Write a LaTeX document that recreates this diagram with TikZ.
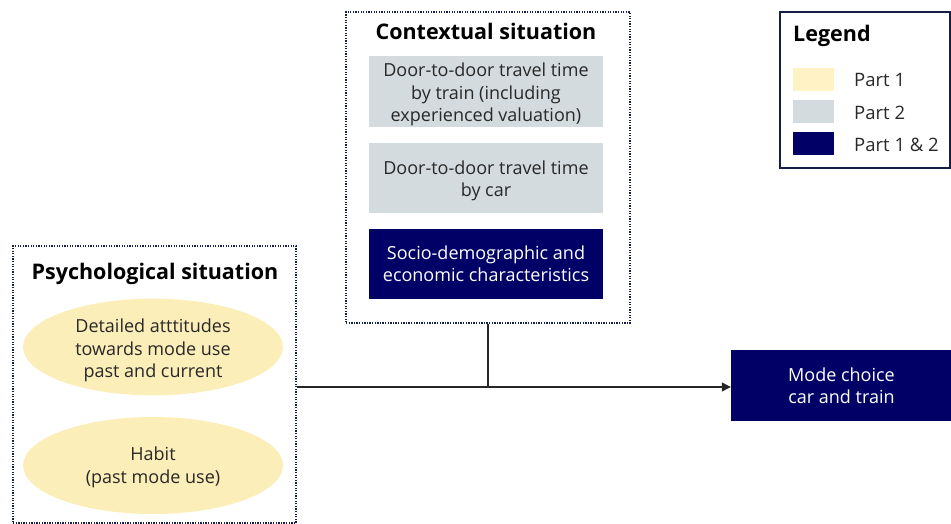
\documentclass[tikz,border=0pt]{standalone}
\usepackage{fontspec}
\setmainfont{Open Sans}
\usetikzlibrary{arrows.meta,shapes.geometric}
\definecolor{navy}{RGB}{0,0,102}
\definecolor{pgrey}{RGB}{211,219,222}
\definecolor{pyellow}{RGB}{252,238,185}
\definecolor{lyellow}{RGB}{255,242,196}
\definecolor{txtgrey}{RGB}{40,40,40}
\definecolor{framecol}{RGB}{20,30,70}
\newcommand{\lowtext}[2][3pt]{\raisebox{-#1}[\height][\depth]{\begin{tabular}{@{}c@{}}#2\end{tabular}}}
\tikzset{
  dotbox/.style={draw=framecol, line width=1.4pt, dash pattern=on 1.3pt off 1.3pt, inner sep=0pt},
  greybox/.style={fill=pgrey, inner sep=0pt, minimum width=234pt, minimum height=71pt, align=center, text=txtgrey, font=\fontsize{18}{22.5}\selectfont},
  navybox/.style={fill=navy, inner sep=0pt, minimum width=234pt, minimum height=70pt, align=center, text=white, font=\fontsize{18}{22.5}\selectfont},
  yell/.style={ellipse, fill=pyellow, inner sep=0pt, minimum width=260pt, minimum height=96pt, align=center, text=txtgrey, font=\fontsize{18}{22.8}\selectfont},
  ttl/.style={font=\bfseries\fontsize{21.5}{25}\selectfont, text=black, inner sep=0pt},
  swatch/.style={inner sep=0pt, minimum width=41pt, minimum height=23pt},
  leglab/.style={anchor=west, inner sep=0pt, text=txtgrey, font=\fontsize{18.5}{22}\selectfont},
  conn/.style={draw=black!85, line width=1.2pt}
}
\begin{document}
\begin{tikzpicture}[x=1pt,y=-1pt]
\useasboundingbox (0,0) rectangle (951,524);
% Contextual situation
\node[dotbox, minimum width=284pt, minimum height=311pt] (ctx) at (488,167.5) {};
\node[ttl] (ctxt) at (486,31) {Contextual situation};
\node[greybox] (g1) at (486,91.5) {\lowtext[3.5pt]{Door-to-door travel time\\by train (including\\experienced valuation)}};
\node[greybox, minimum height=70pt] (g2) at (486,178) {\lowtext{Door-to-door travel time\\by car}};
\node[navybox] (n1) at (486,263.5) {Socio-demographic and\\economic characteristics};
% Psychological situation
\node[dotbox, minimum width=283pt, minimum height=277pt] (psy) at (154.5,384.5) {};
\node[ttl] (psyt) at (155,274) {Psychological situation};
\node[yell] (e1) at (153,347) {\lowtext[3.5pt]{Detailed atttitudes\\towards mode use\\past and current}};
\node[yell, minimum height=97pt] (e2) at (153,465.5) {\lowtext[2pt]{Habit\\(past mode use)}};
% Mode choice
\node[navybox, minimum width=221pt, minimum height=71pt] (mode) at (841.5,385.5) {Mode choice\\car and train};
% connectors
\draw[conn] (psy.east |- 0,387) coordinate (ls) -- (729,387) coordinate (le);
\draw[conn, -{Triangle[length=9pt,width=9pt]}] (ls) -- (mode.west |- ls);
\draw[conn] (ctx.south) -- (ctx.south |- ls);
% Legend
\node[draw=framecol, line width=1.4pt, inner sep=0pt, minimum width=170pt, minimum height=156pt] (leg) at (865,90) {};
\node[ttl, anchor=west] (legt) at (793,36) {Legend};
\node[swatch, fill=lyellow] (s1) at (813.5,79.5) {};
\node[swatch, fill=pgrey] (s2) at (813.5,112) {};
\node[swatch, fill=navy] (s3) at (813.5,144) {};
\node[leglab] (l1) at (854,80) {Part 1};
\node[leglab] (l2) at (854,113) {Part 2};
\node[leglab] (l3) at (854,145) {Part 1 \& 2};
\end{tikzpicture}
\end{document}
